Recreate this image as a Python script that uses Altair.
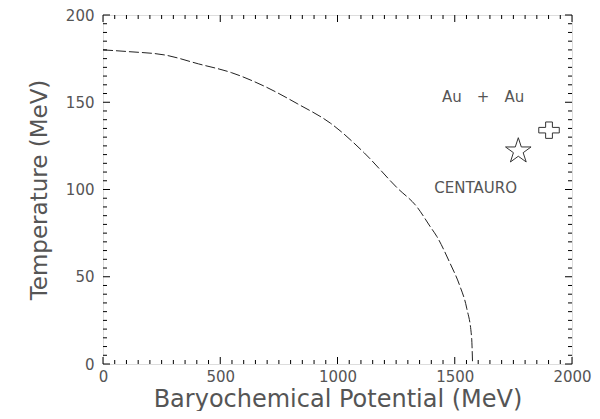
import altair as alt
import pandas as pd

# Phase boundary curve
mu_curve = [0, 110, 267, 407, 547, 691, 831, 970, 1114, 1254, 1339, 1394, 1424, 1479, 1521, 1551, 1572, 1576]
t_curve = [180, 179, 177, 172, 167, 159, 149, 138, 121, 101, 90, 79, 73, 58, 45, 32, 15, 0]

# Markers
star_mu, star_t = [1771], [122]
cross_mu, cross_t = [1902], [134]

# Labels
label_text = ["Au\u2003+\u2003Au", "CENTAURO"]
label_mu = [1621, 1589]
label_t = [153, 101]

x_ticks = [0, 500, 1000, 1500, 2000]
y_ticks = [0, 50, 100, 150, 200]
x_minor = [i * 50 for i in range(41)]
y_minor = [i * 5 for i in range(41)]

W, H = 469, 349
FONT = "DejaVu Sans"
TXT = "#555555"

xs = alt.Scale(domain=[0, 2000], nice=False, zero=False)
ys = alt.Scale(domain=[0, 200], nice=False, zero=False)

curve_df = pd.DataFrame({"mu": mu_curve, "T": t_curve})
base = alt.Chart(curve_df).mark_line(
    color="#222222", strokeWidth=1, strokeDash=[10, 3], interpolate="monotone"
).encode(
    x=alt.X("mu:Q", scale=xs, axis=alt.Axis(
        values=x_ticks, format="d", title="Baryochemical Potential (MeV)", ticks=False, domain=False,
        grid=False, labelPadding=5, titlePadding=3, labelFontSize=15, titleFontSize=24,
        labelFont=FONT, titleFont=FONT, labelColor=TXT, titleColor=TXT, titleFontWeight="normal",
        labelFlush=False)),
    y=alt.Y("T:Q", scale=ys, axis=alt.Axis(
        values=y_ticks, format="d", title="Temperature (MeV)", ticks=False, domain=False,
        grid=False, labelPadding=9, titlePadding=14, labelFontSize=15, titleFontSize=23,
        labelFont=FONT, titleFont=FONT, labelColor=TXT, titleColor=TXT, titleFontWeight="normal",
        labelFlush=False)),
)

STAR = ("M0,-1 L0.2245,-0.309 L0.951,-0.309 L0.363,0.118 L0.588,0.809 L0,0.382 "
        "L-0.588,0.809 L-0.363,0.118 L-0.951,-0.309 L-0.2245,-0.309 Z")
PLUS = ("M-0.33,-0.8 L0.33,-0.8 L0.33,-0.27 L1,-0.27 L1,0.27 L0.33,0.27 L0.33,0.8 "
        "L-0.33,0.8 L-0.33,0.27 L-1,0.27 L-1,-0.27 L-0.33,-0.27 Z")

star = alt.Chart(pd.DataFrame({"mu": star_mu, "T": star_t})).mark_point(
    shape=STAR, size=720, filled=False, stroke="#333333", strokeWidth=1, opacity=1
).encode(x=alt.X("mu:Q", scale=xs), y=alt.Y("T:Q", scale=ys))

cross = alt.Chart(pd.DataFrame({"mu": cross_mu, "T": cross_t})).mark_point(
    shape=PLUS, size=420, filled=False, stroke="#333333", strokeWidth=1, opacity=1
).encode(x=alt.X("mu:Q", scale=xs), y=alt.Y("T:Q", scale=ys))

labels = alt.Chart(pd.DataFrame({"mu": label_mu, "T": label_t, "txt": label_text})).mark_text(
    font=FONT, fontSize=15, color=TXT, align="center", baseline="middle"
).encode(x=alt.X("mu:Q", scale=xs), y=alt.Y("T:Q", scale=ys), text="txt:N")

xmin_df = pd.DataFrame({"v": [v for v in x_minor if v % 500 != 0]})
xmaj_df = pd.DataFrame({"v": x_ticks})
ymin_df = pd.DataFrame({"v": [v for v in y_minor if v % 50 != 0]})
ymaj_df = pd.DataFrame({"v": y_ticks})

def xt(df, y0, y1):
    return alt.Chart(df).mark_rule(color="black", strokeWidth=1).encode(
        x=alt.X("v:Q", scale=xs), y=alt.value(y0), y2=alt.value(y1))

def yt(df, x0, x1):
    return alt.Chart(df).mark_rule(color="black", strokeWidth=1).encode(
        y=alt.Y("v:Q", scale=ys), x=alt.value(x0), x2=alt.value(x1))

ticks = [
    xt(xmin_df, H, H - 4), xt(xmaj_df, H, H - 7),
    xt(xmin_df, 0, 4), xt(xmaj_df, 0, 7),
    yt(ymin_df, 0, 4), yt(ymaj_df, 0, 7),
    yt(ymin_df, W, W - 4), yt(ymaj_df, W, W - 7),
]

chart = alt.layer(base, star, cross, labels, *ticks).properties(
    width=W, height=H,
    autosize=alt.AutoSizeParams(type="none"),
    padding={"left": 95, "top": 7, "right": 20, "bottom": 47},
).configure_view(stroke="black", strokeWidth=1).configure(background="white")

chart.save("out.html", embed_options={"renderer": "svg", "actions": False})
